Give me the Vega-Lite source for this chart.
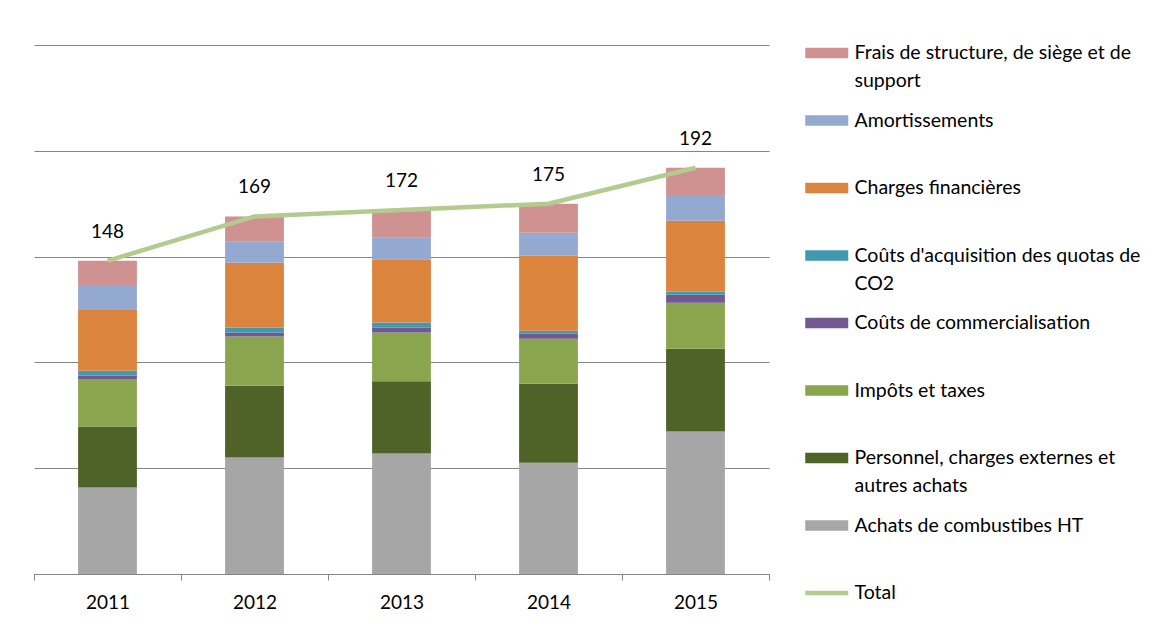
{
  "$schema": "https://vega.github.io/schema/vega-lite/v6.json",
  "width": 735,
  "height": 529,
  "autosize": "none",
  "padding": {"left": 34, "top": 45, "right": 404, "bottom": 65},
  "background": "white",
  "config": {"view": {"stroke": null}},
  "datasets": {
    "bars": [
      {"year": "2011", "serie": "Achats de combustibes HT", "ord": 1, "value": 40.9},
      {"year": "2011", "serie": "Personnel, charges externes et autres achats", "ord": 2, "value": 28.8},
      {"year": "2011", "serie": "Impôts et taxes", "ord": 3, "value": 22.5},
      {"year": "2011", "serie": "Coûts de commercialisation", "ord": 4, "value": 1.6},
      {"year": "2011", "serie": "Coûts d'acquisition des quotas de CO2", "ord": 5, "value": 2.2},
      {"year": "2011", "serie": "Charges financières", "ord": 6, "value": 28.8},
      {"year": "2011", "serie": "Amortissements", "ord": 7, "value": 11.8},
      {"year": "2011", "serie": "Frais de structure, de siège et de support", "ord": 8, "value": 11.4},
      {"year": "2012", "serie": "Achats de combustibes HT", "ord": 1, "value": 55.1},
      {"year": "2012", "serie": "Personnel, charges externes et autres achats", "ord": 2, "value": 33.9},
      {"year": "2012", "serie": "Impôts et taxes", "ord": 3, "value": 23.2},
      {"year": "2012", "serie": "Coûts de commercialisation", "ord": 4, "value": 1.9},
      {"year": "2012", "serie": "Coûts d'acquisition des quotas de CO2", "ord": 5, "value": 2.4},
      {"year": "2012", "serie": "Charges financières", "ord": 6, "value": 30.6},
      {"year": "2012", "serie": "Amortissements", "ord": 7, "value": 10.2},
      {"year": "2012", "serie": "Frais de structure, de siège et de support", "ord": 8, "value": 11.7},
      {"year": "2013", "serie": "Achats de combustibes HT", "ord": 1, "value": 56.9},
      {"year": "2013", "serie": "Personnel, charges externes et autres achats", "ord": 2, "value": 34.2},
      {"year": "2013", "serie": "Impôts et taxes", "ord": 3, "value": 23.0},
      {"year": "2013", "serie": "Coûts de commercialisation", "ord": 4, "value": 2.4},
      {"year": "2013", "serie": "Coûts d'acquisition des quotas de CO2", "ord": 5, "value": 2.4},
      {"year": "2013", "serie": "Charges financières", "ord": 6, "value": 29.8},
      {"year": "2013", "serie": "Amortissements", "ord": 7, "value": 10.5},
      {"year": "2013", "serie": "Frais de structure, de siège et de support", "ord": 8, "value": 12.8},
      {"year": "2014", "serie": "Achats de combustibes HT", "ord": 1, "value": 52.6},
      {"year": "2014", "serie": "Personnel, charges externes et autres achats", "ord": 2, "value": 37.3},
      {"year": "2014", "serie": "Impôts et taxes", "ord": 3, "value": 21.3},
      {"year": "2014", "serie": "Coûts de commercialisation", "ord": 4, "value": 2.4},
      {"year": "2014", "serie": "Coûts d'acquisition des quotas de CO2", "ord": 5, "value": 1.4},
      {"year": "2014", "serie": "Charges financières", "ord": 6, "value": 35.4},
      {"year": "2014", "serie": "Amortissements", "ord": 7, "value": 10.9},
      {"year": "2014", "serie": "Frais de structure, de siège et de support", "ord": 8, "value": 13.7},
      {"year": "2015", "serie": "Achats de combustibes HT", "ord": 1, "value": 67.4},
      {"year": "2015", "serie": "Personnel, charges externes et autres achats", "ord": 2, "value": 39.1},
      {"year": "2015", "serie": "Impôts et taxes", "ord": 3, "value": 21.7},
      {"year": "2015", "serie": "Coûts de commercialisation", "ord": 4, "value": 3.8},
      {"year": "2015", "serie": "Coûts d'acquisition des quotas de CO2", "ord": 5, "value": 1.4},
      {"year": "2015", "serie": "Charges financières", "ord": 6, "value": 33.6},
      {"year": "2015", "serie": "Amortissements", "ord": 7, "value": 12.1},
      {"year": "2015", "serie": "Frais de structure, de siège et de support", "ord": 8, "value": 12.9}
    ],
    "totals": [
      {"year": "2011", "Total": 148},
      {"year": "2012", "Total": 169},
      {"year": "2013", "Total": 172},
      {"year": "2014", "Total": 175},
      {"year": "2015", "Total": 192}
    ]
  },
  "encoding": {
    "x": {
      "field": "year",
      "type": "ordinal",
      "scale": {"paddingInner": 0, "paddingOuter": 0},
      "axis": {
        "title": null,
        "labelAngle": 0,
        "labelFont": "Lato",
        "labelFontSize": 19,
        "labelColor": "#000000",
        "labelBaseline": "middle",
        "labelPadding": 22,
        "tickBand": "extent",
        "tickSize": 6,
        "tickColor": "#868686",
        "domainColor": "#868686",
        "grid": false
      }
    }
  },
  "layer": [
    {
      "data": {"name": "bars"},
      "mark": {"type": "bar", "width": {"band": 0.4}},
      "encoding": {
        "y": {
          "field": "value",
          "type": "quantitative",
          "stack": "zero",
          "scale": {"domain": [0, 250], "nice": false},
          "axis": {
            "title": null,
            "values": [0, 50, 100, 150, 200, 250],
            "labels": false,
            "ticks": false,
            "domain": false,
            "grid": true,
            "gridColor": "#868686",
            "gridWidth": 1
          }
        },
        "order": {"field": "ord", "type": "quantitative"},
        "color": {
          "field": "serie",
          "type": "nominal",
          "scale": {
            "domain": [
              "Frais de structure, de siège et de support",
              "Amortissements",
              "Charges financières",
              "Coûts d'acquisition des quotas de CO2",
              "Coûts de commercialisation",
              "Impôts et taxes",
              "Personnel, charges externes et autres achats",
              "Achats de combustibes HT",
              "Total"
            ],
            "range": ["#D09191", "#94A9D0", "#DB843D", "#4198AF", "#71588F", "#89A54E", "#4F6228", "#A6A6A6", "#B4CB8F"]
          },
          "legend": {
            "orient": "none",
            "legendX": 781.75,
            "legendY": -3,
            "title": null,
            "padding": 0,
            "symbolType": "M-2,-0.5H2V0.5H-2Z",
            "symbolSize": 462,
            "symbolStrokeWidth": 0,
            "labelFont": "Lato",
            "labelFontSize": 19.5,
            "labelColor": "#000000",
            "labelLimit": 400,
            "labelOffset": 16.75,
            "gridAlign": "all",
            "rowPadding": 18.5,
            "labelExpr": "datum.value == 'Frais de structure, de siège et de support' ? ['Frais de structure, de siège et de', 'support'] : datum.value == \"Coûts d'acquisition des quotas de CO2\" ? [\"Coûts d'acquisition des quotas de\", 'CO2'] : datum.value == 'Personnel, charges externes et autres achats' ? ['Personnel, charges externes et', 'autres achats'] : datum.label",
            "encoding": {
              "labels": {
                "lineHeight": {"value": 28}
              },
              "symbols": {
                "shape": {"condition": {"test": "datum.value == 'Total'", "value": "M-2,-0.2H2V0.2H-2Z"}, "value": "M-2,-0.5H2V0.5H-2Z"}
              }
            }
          }
        }
      }
    },
    {
      "data": {"name": "totals"},
      "mark": {"type": "line", "color": "#B4CB8F", "strokeWidth": 4.5},
      "encoding": {
        "y": {"field": "Total", "type": "quantitative"}
      }
    },
    {
      "data": {"name": "totals"},
      "mark": {"type": "text", "dy": -29, "font": "Lato", "fontSize": 19, "color": "#000000"},
      "encoding": {
        "y": {"field": "Total", "type": "quantitative"},
        "text": {"field": "Total", "type": "quantitative"}
      }
    }
  ]
}
